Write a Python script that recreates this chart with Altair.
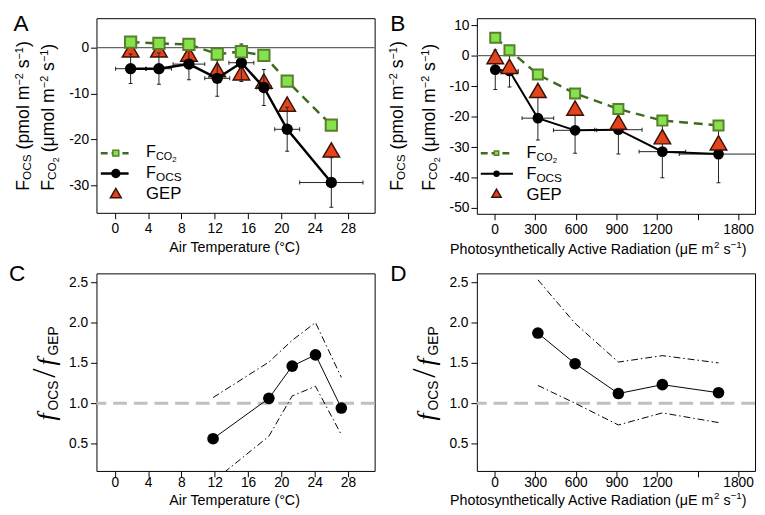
import altair as alt
import pandas as pd

SANS = "Liberation Sans"
SERIF = "Liberation Serif"

# ---------------- Panel A : fluxes vs air temperature ----------------
tempA      = [1.9, 5.3, 8.9, 12.3, 15.2, 17.9, 20.7, 26.0]
tempA_xerr = [1.8, 1.5, 1.9, 1.5, 1.5, 0.9, 1.5, 3.8]
fco2A      = [1.2, 0.9, 0.7, -1.4, -0.9, -1.7, -7.3, -16.9]
focsA      = [-4.6, -4.6, -3.6, -6.7, -3.3, -8.7, -17.8, -29.4]
focsA_yerr = [3.2, 3.4, 3.4, 3.9, 4.1, 3.9, 4.8, 5.4]
gepA       = [-0.5, -0.5, -1.4, -4.8, -5.5, -7.3, -12.3, -22.3]

# ---------------- Panel B : fluxes vs PAR ----------------
parB       = [5, 110, 320, 595, 915, 1240, 1655]
parB_xerr  = [25, 65, 117, 160, 175, 172, 290]
fco2B      = [5.9, 1.8, -6.2, -12.4, -17.5, -21.3, -22.9]
focsB      = [-4.6, -5.0, -20.5, -24.5, -24.3, -31.5, -32.3]
focsB_yerr = [6.5, 5.3, 7.2, 7.5, 8.0, 8.6, 9.4]
gepB       = [-0.3, -3.5, -11.4, -17.2, -21.8, -26.6, -28.6]

# ---------------- Panel C : ratio vs air temperature ----------------
tempC  = [11.8, 18.5, 21.3, 24.1, 27.2]
ratioC = [0.56, 1.06, 1.46, 1.60, 0.94]
upperC = [1.07, 1.51, 1.78, 2.00, 1.32]
lowerC = [0.03, 0.59, 1.09, 1.21, 0.61]

# ---------------- Panel D : ratio vs PAR ----------------
parD   = [320, 595, 915, 1240, 1655]
ratioD = [1.87, 1.49, 1.12, 1.23, 1.13]
upperD = [2.53, 1.99, 1.51, 1.59, 1.50]
lowerD = [1.22, 1.00, 0.73, 0.88, 0.76]

# ---------------- ticks & texts ----------------
ticks_temp = [0, 4, 8, 12, 16, 20, 24, 28]
ticks_par = [0, 300, 600, 900, 1200, 1500, 1800]
ticks_fluxA = [-30, -20, -10, 0]
ticks_fluxB = [-50, -40, -30, -20, -10, 0, 10]
ticks_ratio = [0.5, 1.0, 1.5, 2.0, 2.5]
letters = ["A", "B", "C", "D"]
xtitle_temp = "Air Temperature (°C)"
xtitle_par = ["Photosynthetically Active Radiation (μE m", "2", " s", "−1", ")"]
ytitle_ocs = ["F", "OCS", " (pmol m", "−2", " s", "−1", ")"]
ytitle_co2 = ["F", "CO", "2", " (μmol m", "−2", " s", "−1", ")"]
legend_names = [["F", "CO", "2"], ["F", "OCS"], ["GEP"]]
ratio_title = ["f", "OCS", "/", "f", "GEP"]

GREEN_FILL = "#86E24C"
GREEN_EDGE = "#587F2C"
GREEN_LINE = "#3E6B1F"
RED_FILL = "#E5431B"
RED_EDGE = "#3A1208"
ERR = "#222222"

# ---------------- rich text helpers ----------------
ADV_SANS = {' ': 278, '(': 333, ')': 333, '-': 333, '−': 584, '°': 400, 'μ': 576, '/': 278, '.': 278,
            'A': 667, 'B': 667, 'C': 722, 'D': 722, 'E': 667, 'F': 611, 'G': 778, 'O': 778, 'P': 667,
            'R': 722, 'S': 667, 'T': 611, 'a': 556, 'c': 500, 'd': 556, 'e': 556, 'h': 556, 'i': 222,
            'l': 222, 'm': 833, 'n': 556, 'o': 556, 'p': 556, 'r': 333, 's': 500, 't': 278, 'u': 556,
            'v': 500, 'y': 500}
for _d in "0123456789":
    ADV_SANS[_d] = 556
ADV_SERIF = {'f': 278, '/': 278, ' ': 250}


def adv(text, fs, font):
    table = ADV_SANS if font == 'sans' else ADV_SERIF
    return sum(table.get(c, 556) for c in text) * fs / 1000.0


def rich(pieces, x0, y0, vertical=False):
    rows = []
    a = 0.0
    for p in pieces:
        if isinstance(p, (int, float)):
            a += p
            continue
        text, fs, shift, font = p
        st = text.lstrip(' ')
        lead = adv(text[:len(text) - len(st)], fs, font)
        pos = a + lead
        if vertical:
            rows.append(dict(t=st.rstrip(' '), fs=fs, px=x0 - shift, py=y0 - pos, font=font))
        else:
            rows.append(dict(t=st.rstrip(' '), fs=fs, px=x0 + pos, py=y0 - shift, font=font))
        a += adv(text, fs, font)
    return rows


def text_layers(rows, angle=0):
    out = []
    for key, fam, style in [('sans', SANS, 'normal'), ('serif', SERIF, 'normal'), ('serifi', SERIF, 'italic')]:
        sub = [r for r in rows if r['font'] == key]
        if not sub:
            continue
        mk = dict(align='left', baseline='alphabetic', font=fam, fontStyle=style, color='black')
        if angle:
            mk['angle'] = angle
        out.append(alt.Chart(pd.DataFrame(sub)).mark_text(**mk).encode(
            x=alt.X('px', type='quantitative', scale=None, axis=None),
            y=alt.Y('py', type='quantitative', scale=None, axis=None),
            size=alt.Size('fs', type='quantitative', scale=None, legend=None),
            text=alt.Text('t', type='nominal')))
    return out


def PX(f):
    return alt.X(f, type='quantitative', scale=None, axis=None)


def PY(f):
    return alt.Y(f, type='quantitative', scale=None, axis=None)


def lin(dom):
    return alt.Scale(domain=dom, nice=False, zero=False)


# ---------------- flux panels (A, B) ----------------
def flux_panel(x, xerr, fco2, focs, yerr, gep, xdom, ydom, xticks, yticks, xexpr, w, h,
               sizes, lw, tri_top, leg, letter, letter_x, ytx, xtitle_rows):
    df = pd.DataFrame({'x': x, 'fco2': fco2, 'focs': focs, 'gep': gep})
    df['ylo'] = df['focs'] - pd.Series(yerr)
    df['yhi'] = df['focs'] + pd.Series(yerr)
    df['xlo'] = df['x'] - pd.Series(xerr)
    df['xhi'] = df['x'] + pd.Series(xerr)
    xs, ys = lin(xdom), lin(ydom)
    xax = alt.Axis(values=xticks, title=None, labelPadding=3.5, labelExpr=xexpr)
    yax = alt.Axis(values=yticks, title=None, labelPadding=2, labelExpr="'' + datum.value")

    def X(f):
        return alt.X(f, type='quantitative', scale=xs, axis=xax)

    def Y(f):
        return alt.Y(f, type='quantitative', scale=ys, axis=yax)

    base = alt.Chart(df)
    zero = alt.Chart(pd.DataFrame({'z': [0]})).mark_rule(color='#666666', strokeWidth=1.2).encode(y=Y('z'))
    tri = base.mark_point(shape='triangle-up', filled=True, fill=RED_FILL, stroke=RED_EDGE, strokeWidth=1.5,
                          size=sizes['tri'], opacity=1, clip=True).encode(x=X('x'), y=Y('gep'))
    err = [
        base.mark_rule(color=ERR, strokeWidth=1, clip=True).encode(x=X('x'), y=Y('ylo'), y2=alt.Y2('yhi')),
        base.mark_tick(orient='horizontal', size=4, thickness=1, color=ERR, opacity=1, clip=True).encode(x=X('x'), y=Y('ylo')),
        base.mark_tick(orient='horizontal', size=4, thickness=1, color=ERR, opacity=1, clip=True).encode(x=X('x'), y=Y('yhi')),
        base.mark_rule(color=ERR, strokeWidth=1, clip=True).encode(x=X('xlo'), x2=alt.X2('xhi'), y=Y('focs')),
        base.mark_tick(orient='vertical', size=4, thickness=1, color=ERR, opacity=1, clip=True).encode(x=X('xlo'), y=Y('focs')),
        base.mark_tick(orient='vertical', size=4, thickness=1, color=ERR, opacity=1, clip=True).encode(x=X('xhi'), y=Y('focs')),
    ]
    ocs = [
        base.mark_line(color='black', strokeWidth=lw, clip=True).encode(x=X('x'), y=Y('focs')),
        base.mark_circle(color='black', size=sizes['ci'], opacity=1, clip=True).encode(x=X('x'), y=Y('focs')),
    ]
    co2 = [
        base.mark_line(color=GREEN_LINE, strokeWidth=2.5, strokeDash=[9, 6], clip=True).encode(x=X('x'), y=Y('fco2')),
        base.mark_point(shape='square', filled=True, fill=GREEN_FILL, stroke=GREEN_EDGE, strokeWidth=2,
                        size=sizes['sq'], opacity=1, clip=True).encode(x=X('x'), y=Y('fco2')),
    ]
    if tri_top:
        data_layers = [zero] + err + ocs + [tri] + co2
    else:
        data_layers = [zero, tri] + err + ocs + co2

    # legend
    ly = leg['rows']
    lg = [
        alt.Chart(pd.DataFrame({'a': [leg['x0']], 'b': [leg['x1']], 'c': [ly[0]]})).mark_rule(
            color=GREEN_LINE, strokeWidth=2.5, strokeDash=[7, 4]).encode(x=PX('a'), x2=alt.X2('b'), y=PY('c')),
        alt.Chart(pd.DataFrame({'a': [leg['x0']], 'b': [leg['x1']], 'c': [ly[1]]})).mark_rule(
            color='black', strokeWidth=lw).encode(x=PX('a'), x2=alt.X2('b'), y=PY('c')),
        alt.Chart(pd.DataFrame({'a': [leg['xs']], 'c': [ly[0]]})).mark_point(
            shape='square', filled=True, fill=GREEN_FILL, stroke=GREEN_EDGE, strokeWidth=1.5,
            size=leg['sq'], opacity=1).encode(x=PX('a'), y=PY('c')),
        alt.Chart(pd.DataFrame({'a': [leg['xs']], 'c': [ly[1]]})).mark_circle(
            color='black', size=leg['ci'], opacity=1).encode(x=PX('a'), y=PY('c')),
        alt.Chart(pd.DataFrame({'a': [leg['xs']], 'c': [ly[2]]})).mark_point(
            shape='triangle-up', filled=True, fill=RED_FILL, stroke=RED_EDGE, strokeWidth=1.5,
            size=leg['tri'], opacity=1).encode(x=PX('a'), y=PY('c')),
    ]
    n0, n1, n2 = legend_names
    hrows = []
    hrows += rich([(n0[0], 16.5, 0, 'sans'), (n0[1], 11, -2.7, 'sans'), (n0[2], 8, -4.5, 'sans')],
                  leg['xt'], leg['tb'][0])
    hrows += rich([(n1[0], 16.5, 0, 'sans'), (n1[1], 12, -2.5, 'sans')], leg['xt'], leg['tb'][1])
    hrows += rich([(n2[0], 17, 0, 'sans')], leg['xt'], leg['tb'][2])
    hrows += rich([(letter, 23, 0, 'sans')], letter_x, 13.4)
    hrows += xtitle_rows
    o = ytitle_ocs
    c = ytitle_co2
    M, SB, SP = 18, 12, 11
    vrows = rich([(o[0], M, 0, 'sans'), (o[1], SB, -2, 'sans'), (o[2], M, 0, 'sans'),
                  (o[3], SP, 6, 'sans'), (o[4], M, 0, 'sans'), (o[5], SP, 6, 'sans'),
                  (o[6], M, 0, 'sans')], ytx[0], 175.5, vertical=True)
    vrows += rich([(c[0], M, 0, 'sans'), (c[1], SB, -2, 'sans'), (c[2], 9, -5, 'sans'),
                   (c[3], M, 0, 'sans'), (c[4], SP, 6, 'sans'), (c[5], M, 0, 'sans'),
                   (c[6], SP, 6, 'sans'), (c[7], M, 0, 'sans')], ytx[1], 175.5, vertical=True)
    layers = data_layers + lg + text_layers(hrows) + text_layers(vrows, angle=270)
    return alt.layer(*layers).properties(width=w, height=h)


def temp_title(baseline):
    wdt = adv(xtitle_temp, 14.5, 'sans')
    return rich([(xtitle_temp, 14.5, 0, 'sans')], 141.5 - wdt / 2, baseline)


def par_title(baseline):
    p = xtitle_par
    return rich([(p[0], 14.5, 0, 'sans'), (p[1], 10, 6.5, 'sans'), (p[2], 14.5, 0, 'sans'),
                 (p[3], 10, 6.5, 'sans'), (p[4], 14.5, 0, 'sans')], -27.3, baseline)


XDOM_T = [-2.2, 31.2]
XDOM_P = [-131, 1925]
PAR_EXPR = "datum.value == 1500 ? '' : '' + datum.value"
TEMP_EXPR = "'' + datum.value"

A = flux_panel(tempA, tempA_xerr, fco2A, focsA, focsA_yerr, gepA, XDOM_T, [-36, 6.4], ticks_temp,
               ticks_fluxA, TEMP_EXPR, 283, 198,
               dict(sq=132, ci=133, tri=282), 2.5, False,
               dict(x0=4.4, x1=32.7, xs=19.7, rows=[137.3, 158, 178], xt=50.5, tb=[141.5, 163, 184.3],
                    sq=36, ci=90, tri=121),
               letters[0], -84.3, (-69, -43), temp_title(238.3))

B = flux_panel(parB, parB_xerr, fco2B, focsB, focsB_yerr, gepB, XDOM_P, [-51.9, 12.3], ticks_par,
               ticks_fluxB, PAR_EXPR, 283, 199,
               dict(sq=105, ci=119, tri=282), 2.0, True,
               dict(x0=4, x1=36.7, xs=20, rows=[137.3, 158.3, 178], xt=50.5, tb=[142.3, 164, 184.6],
                    sq=20, ci=42, tri=90),
               letters[1], -88, (-75.6, -43), par_title(240.3))


# ---------------- ratio panels (C, D) ----------------
def ratio_panel(x, r, up, lo, xdom, xticks, xexpr, letter, xtitle_rows):
    df = pd.DataFrame({'x': x, 'r': r, 'up': up, 'lo': lo})
    xs, ys = lin(xdom), lin([0.16, 2.61])
    xax = alt.Axis(values=xticks, title=None, labelPadding=-1, labelExpr=xexpr)
    yax = alt.Axis(values=ticks_ratio, title=None, labelPadding=3, format='.1f')

    def X(f):
        return alt.X(f, type='quantitative', scale=xs, axis=xax)

    def Y(f):
        return alt.Y(f, type='quantitative', scale=ys, axis=yax)

    base = alt.Chart(df)
    layers = [
        alt.Chart(pd.DataFrame({'one': [1.0]})).mark_rule(color='#C0C0C0', strokeWidth=3,
                                                         strokeDash=[14, 7]).encode(y=Y('one')),
        base.mark_line(color='black', strokeWidth=1, strokeDash=[7, 3, 1.5, 3], clip=True).encode(x=X('x'), y=Y('up')),
        base.mark_line(color='black', strokeWidth=1, strokeDash=[7, 3, 1.5, 3], clip=True).encode(x=X('x'), y=Y('lo')),
        base.mark_line(color='black', strokeWidth=1, clip=True).encode(x=X('x'), y=Y('r')),
        base.mark_circle(color='black', size=140, opacity=1, clip=True).encode(x=X('x'), y=Y('r')),
    ]
    t = ratio_title
    vrows = rich([(t[0], 26, 0, 'serifi'), 3, (t[1], 14, -3, 'sans'), 3, (t[2], 34, 0, 'serif'), 3,
                  (t[3], 26, 0, 'serifi'), 3, (t[4], 14, -3, 'sans')], -42.3, 149.7, vertical=True)
    hrows = rich([(letter, 23, 0, 'sans')], -89 if letter == 'C' else -88, 7.7) + xtitle_rows
    layers += text_layers(hrows) + text_layers(vrows, angle=270)
    return alt.layer(*layers).properties(width=283, height=201)


C = ratio_panel(tempC, ratioC, upperC, lowerC, XDOM_T, ticks_temp, TEMP_EXPR, letters[2], temp_title(235.7))
D = ratio_panel(parD, ratioD, upperD, lowerD, XDOM_P, ticks_par, PAR_EXPR, letters[3], par_title(235.7))

chart = alt.concat(A, B, C, D, columns=2, spacing={'row': 60.6, 'column': 104}, bounds='flush').properties(
    padding=0
).configure_view(stroke='black', strokeWidth=1).configure_axis(
    domain=False, grid=False, tickColor='black', tickSize=6, tickWidth=1,
    labelFont=SANS, labelFontSize=14, labelColor='black', labelFlush=False, labelOverlap=False, labelBound=False
)

chart.save("out.html", embed_options={"renderer": "svg", "actions": False})
